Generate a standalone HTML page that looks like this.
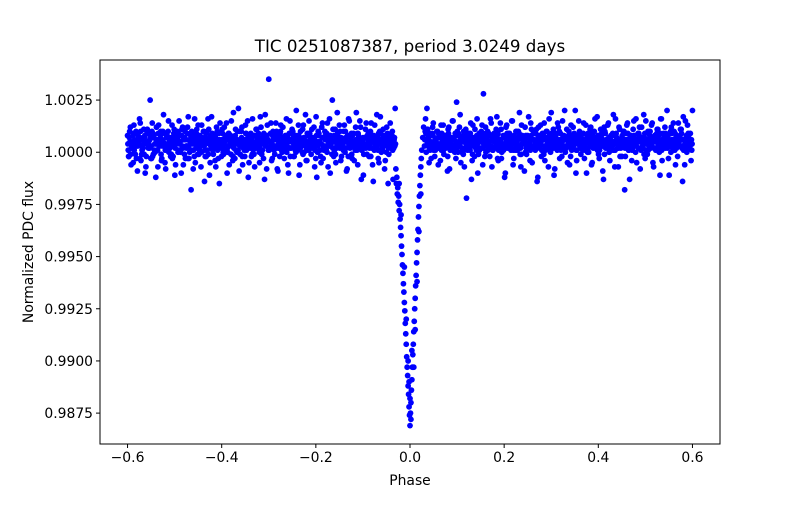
<!DOCTYPE html>
<html><head><meta charset="utf-8"><style>
html,body{margin:0;padding:0;background:#fff;}
svg text{font-family:"DejaVu Sans","Liberation Sans",sans-serif;fill:#000;}
</style></head><body>
<svg id="chart" width="800" height="500" viewBox="0 0 800 500" xmlns="http://www.w3.org/2000/svg">
<rect x="0" y="0" width="800" height="500" fill="#fff"/>
<g id="marks"></g>
<rect x="100" y="60" width="620" height="384" fill="none" stroke="#000" stroke-width="1"/>
<g id="xticks"></g>
<g id="yticks"></g>
<text x="410" y="52" font-size="16.7" text-anchor="middle">TIC 0251087387, period 3.0249 days</text>
<text x="410" y="485" font-size="13.9" text-anchor="middle">Phase</text>
<text x="0" y="0" font-size="13.9" text-anchor="middle" transform="translate(33,252) rotate(-90)">Normalized PDC flux</text>
</svg>
<script>
const xTicks=[-0.6,-0.4,-0.2,0.0,0.2,0.4,0.6];
const xTickLabels=["\u22120.6","\u22120.4","\u22120.2","0.0","0.2","0.4","0.6"];
const yTicks=[0.9875,0.9900,0.9925,0.9950,0.9975,1.0000,1.0025];
const yTickLabels=["0.9875","0.9900","0.9925","0.9950","0.9975","1.0000","1.0025"];
const phaseLeft=[-0.600,-0.597,-0.594,-0.591,-0.588,-0.585,-0.582,-0.579,-0.576,-0.573,
-0.570,-0.567,-0.564,-0.561,-0.558,-0.555,-0.552,-0.549,-0.546,-0.543,
-0.540,-0.537,-0.534,-0.531,-0.528,-0.525,-0.522,-0.519,-0.516,-0.513,
-0.510,-0.507,-0.504,-0.501,-0.498,-0.495,-0.492,-0.489,-0.486,-0.483,
-0.480,-0.477,-0.474,-0.471,-0.468,-0.465,-0.462,-0.459,-0.456,-0.453,
-0.450,-0.447,-0.444,-0.441,-0.438,-0.435,-0.432,-0.429,-0.426,-0.423,
-0.420,-0.417,-0.414,-0.411,-0.408,-0.405,-0.402,-0.399,-0.396,-0.393,
-0.390,-0.387,-0.384,-0.381,-0.378,-0.375,-0.372,-0.369,-0.366,-0.363,
-0.360,-0.357,-0.354,-0.351,-0.348,-0.345,-0.342,-0.339,-0.336,-0.333,
-0.330,-0.327,-0.324,-0.321,-0.318,-0.315,-0.312,-0.309,-0.306,-0.303,
-0.300,-0.297,-0.294,-0.291,-0.288,-0.285,-0.282,-0.279,-0.276,-0.273,
-0.270,-0.267,-0.264,-0.261,-0.258,-0.255,-0.252,-0.249,-0.246,-0.243,
-0.240,-0.237,-0.234,-0.231,-0.228,-0.225,-0.222,-0.219,-0.216,-0.213,
-0.210,-0.207,-0.204,-0.201,-0.198,-0.195,-0.192,-0.189,-0.186,-0.183,
-0.180,-0.177,-0.174,-0.171,-0.168,-0.165,-0.162,-0.159,-0.156,-0.153,
-0.150,-0.147,-0.144,-0.141,-0.138,-0.135,-0.132,-0.129,-0.126,-0.123,
-0.120,-0.117,-0.114,-0.111,-0.108,-0.105,-0.102,-0.099,-0.096,-0.093,
-0.090,-0.087,-0.084,-0.081,-0.078,-0.075,-0.072,-0.069,-0.066,-0.063,
-0.060,-0.057,-0.054,-0.051,-0.048,-0.045,-0.042,-0.039,-0.036,-0.033];
const phaseRight=[0.033,0.036,0.039,0.042,0.045,0.048,0.051,0.054,0.057,0.060,
0.063,0.066,0.069,0.072,0.075,0.078,0.081,0.084,0.087,0.090,
0.093,0.096,0.099,0.102,0.105,0.108,0.111,0.114,0.117,0.120,
0.123,0.126,0.129,0.132,0.135,0.138,0.141,0.144,0.147,0.150,
0.153,0.156,0.159,0.162,0.165,0.168,0.171,0.174,0.177,0.180,
0.183,0.186,0.189,0.192,0.195,0.198,0.201,0.204,0.207,0.210,
0.213,0.216,0.219,0.222,0.225,0.228,0.231,0.234,0.237,0.240,
0.243,0.246,0.249,0.252,0.255,0.258,0.261,0.264,0.267,0.270,
0.273,0.276,0.279,0.282,0.285,0.288,0.291,0.294,0.297,0.300,
0.303,0.306,0.309,0.312,0.315,0.318,0.321,0.324,0.327,0.330,
0.333,0.336,0.339,0.342,0.345,0.348,0.351,0.354,0.357,0.360,
0.363,0.366,0.369,0.372,0.375,0.378,0.381,0.384,0.387,0.390,
0.393,0.396,0.399,0.402,0.405,0.408,0.411,0.414,0.417,0.420,
0.423,0.426,0.429,0.432,0.435,0.438,0.441,0.444,0.447,0.450,
0.453,0.456,0.459,0.462,0.465,0.468,0.471,0.474,0.477,0.480,
0.483,0.486,0.489,0.492,0.495,0.498,0.501,0.504,0.507,0.510,
0.513,0.516,0.519,0.522,0.525,0.528,0.531,0.534,0.537,0.540,
0.543,0.546,0.549,0.552,0.555,0.558,0.561,0.564,0.567,0.570,
0.573,0.576,0.579,0.582,0.585,0.588,0.591,0.594,0.597,0.600];
const fluxLeftA=[1.0008,0.9998,1.0012,1.0003,0.9995,1.0006,1.0010,0.9991,1.0004,1.0014,
0.9999,1.0002,1.0007,0.9993,1.0011,1.0005,1.0025,0.9997,1.0009,1.0001,
0.9988,1.0006,1.0013,1.0003,0.9996,1.0010,1.0004,0.9992,1.0008,1.0015,
1.0002,0.9999,1.0007,1.0011,0.9994,1.0005,1.0009,1.0001,0.9990,1.0012,
1.0006,0.9997,1.0003,1.0017,1.0000,0.9982,1.0008,1.0004,0.9995,1.0011,
1.0013,1.0001,0.9993,1.0007,1.0010,0.9998,1.0005,1.0016,0.9989,1.0003,
1.0009,1.0002,0.9996,1.0012,1.0006,0.9985,1.0004,1.0011,0.9999,1.0007,
1.0014,1.0000,0.9994,1.0008,1.0003,1.0019,0.9997,1.0006,1.0010,0.9991,
1.0005,1.0012,1.0002,0.9998,1.0009,1.0015,0.9995,1.0004,1.0007,1.0001,
0.9993,1.0011,1.0006,1.0003,1.0017,0.9999,1.0008,0.9987,1.0005,1.0013,
1.0035,1.0002,0.9996,1.0010,1.0006,1.0014,0.9992,1.0004,1.0009,1.0001,
1.0012,0.9997,1.0007,1.0003,0.9990,1.0015,1.0005,1.0010,0.9998,1.0008,
1.0002,1.0013,0.9994,1.0006,1.0011,1.0000,1.0018,0.9996,1.0004,1.0009,
0.9999,1.0007,1.0012,1.0003,0.9988,1.0010,1.0005,0.9995,1.0014,1.0001,
1.0006,1.0009,0.9993,1.0016,1.0004,1.0025,0.9998,1.0011,1.0002,1.0007,
1.0013,0.9996,1.0005,1.0010,1.0000,0.9991,1.0008,1.0015,1.0003,0.9997,
1.0009,1.0004,1.0019,0.9994,1.0006,1.0012,1.0001,0.9989,1.0007,1.0014,
1.0003,0.9998,1.0010,1.0005,0.9986,1.0013,1.0002,1.0008,0.9995,1.0017,
1.0006,1.0011,0.9992,1.0004,1.0009,0.9999,1.0014,1.0003,0.9987,1.0007];
const fluxLeftB=[1.0001,1.0010,0.9994,1.0005,1.0013,0.9999,1.0003,1.0008,1.0016,0.9996,
1.0006,1.0011,0.9990,1.0004,1.0009,1.0002,0.9997,1.0014,1.0007,1.0000,
1.0012,0.9993,1.0006,1.0010,1.0003,1.0018,0.9995,1.0008,1.0001,1.0005,
0.9998,1.0013,1.0004,0.9989,1.0009,1.0006,1.0015,1.0000,1.0011,0.9994,
1.0007,1.0003,1.0012,0.9997,1.0005,1.0010,0.9992,1.0016,1.0002,1.0008,
0.9999,1.0006,1.0013,1.0004,0.9986,1.0009,1.0001,1.0011,0.9995,1.0017,
1.0003,1.0008,0.9993,1.0010,1.0005,1.0014,0.9998,1.0002,1.0012,1.0006,
0.9990,1.0009,1.0004,1.0015,0.9996,1.0007,1.0011,1.0000,1.0021,1.0003,
1.0010,0.9994,1.0006,1.0013,1.0002,0.9988,1.0008,1.0005,1.0016,0.9999,
1.0004,1.0011,1.0007,0.9995,1.0012,1.0001,1.0009,1.0018,0.9992,1.0006,
1.0002,1.0014,0.9997,1.0008,1.0003,1.0010,0.9991,1.0005,1.0013,1.0000,
1.0007,1.0004,1.0016,0.9994,1.0009,1.0002,1.0011,0.9998,1.0006,1.0020,
1.0001,0.9989,1.0010,1.0005,1.0013,1.0003,0.9996,1.0008,1.0015,1.0002,
1.0011,1.0006,0.9993,1.0017,1.0000,1.0009,1.0004,1.0012,0.9997,1.0007,
1.0003,1.0014,1.0008,0.9990,1.0005,1.0011,1.0001,0.9995,1.0019,1.0006,
1.0010,0.9998,1.0004,1.0013,1.0007,0.9992,1.0016,1.0002,1.0009,1.0005,
0.9996,1.0012,1.0001,1.0008,1.0015,0.9987,1.0006,1.0003,1.0011,0.9999,
1.0009,1.0004,1.0014,0.9994,1.0007,1.0002,1.0018,0.9997,1.0010,1.0005,
1.0001,1.0008,0.9996,1.0012,0.9985,1.0006,1.0003,1.0010,1.0002,1.0021];
const fluxLeftC=[1.0004,1.0007,0.9999,1.0002,1.0009,1.0005,0.9997,1.0003,1.0006,1.0010,
1.0001,1.0004,1.0008,0.9998,1.0005,1.0002,1.0007,1.0010,0.9999,1.0004,
1.0006,1.0001,1.0003,1.0008,0.9997,1.0005,1.0009,1.0002,1.0004,1.0000,
1.0007,1.0003,0.9998,1.0006,1.0004,1.0010,1.0001,1.0005,1.0008,1.0002,
0.9999,1.0006,1.0009,1.0003,1.0005,1.0001,1.0007,0.9998,1.0004,1.0006,
1.0002,1.0008,1.0000,1.0005,1.0003,1.0007,1.0010,0.9999,1.0004,1.0006,
1.0001,1.0005,1.0008,1.0003,0.9997,1.0006,1.0002,1.0009,1.0004,1.0000,
1.0006,1.0003,1.0007,0.9999,1.0005,1.0002,1.0008,1.0004,1.0001,1.0010,
1.0003,0.9998,1.0006,1.0004,1.0001,1.0007,1.0005,1.0009,0.9999,1.0003,
1.0008,1.0002,1.0005,1.0000,1.0006,1.0004,0.9997,1.0007,1.0003,1.0005,
1.0001,1.0009,1.0004,1.0006,0.9999,1.0002,1.0007,1.0005,1.0010,1.0003,
1.0006,1.0001,1.0004,1.0008,1.0002,0.9998,1.0005,1.0007,1.0003,1.0000,
1.0005,1.0008,1.0002,1.0004,0.9999,1.0006,1.0003,1.0009,1.0001,1.0007,
1.0004,1.0002,1.0006,0.9997,1.0005,1.0008,1.0001,1.0004,1.0007,1.0003,
1.0009,1.0000,1.0005,1.0003,1.0006,1.0002,1.0008,0.9999,1.0004,1.0006,
1.0002,1.0007,1.0004,1.0001,1.0010,1.0005,0.9998,1.0003,1.0006,1.0008,
1.0004,1.0001,1.0005,1.0009,1.0002,1.0006,1.0003,0.9999,1.0007,1.0004,
1.0006,1.0002,0.9998,1.0005,1.0008,1.0003,1.0006,1.0001,1.0004,1.0009,
1.0002,1.0005,1.0007,1.0000,1.0004,1.0006,1.0002,1.0008,1.0005,1.0003];
const fluxLeftD=[0.9998,1.0005,1.0002,1.0008,1.0001,1.0004,1.0009,1.0006,0.9997,1.0003,
1.0007,0.9999,1.0005,1.0010,1.0002,1.0006,1.0003,0.9998,1.0008,1.0004,
1.0001,1.0009,1.0005,0.9999,1.0006,1.0003,1.0001,1.0007,1.0010,1.0004,
1.0005,0.9997,1.0009,1.0002,1.0007,1.0000,1.0004,1.0008,1.0003,1.0006,
1.0010,1.0002,0.9997,1.0006,1.0008,1.0004,1.0001,1.0005,1.0009,0.9999,
1.0005,1.0003,1.0007,1.0010,1.0001,0.9998,1.0006,1.0004,1.0008,1.0002,
0.9999,1.0007,1.0004,1.0001,1.0009,1.0003,1.0006,1.0000,1.0005,1.0008,
1.0002,1.0009,1.0005,1.0003,0.9998,1.0007,1.0001,1.0006,1.0004,0.9999,
1.0007,1.0005,1.0001,1.0009,1.0003,1.0006,1.0002,0.9998,1.0005,1.0008,
1.0004,1.0006,1.0009,1.0002,1.0000,1.0007,1.0005,1.0003,1.0008,1.0001,
1.0005,1.0003,1.0008,1.0001,1.0006,1.0009,1.0002,0.9998,1.0004,1.0007,
1.0003,1.0008,1.0000,1.0005,1.0006,1.0002,1.0009,1.0004,1.0001,1.0006,
1.0008,1.0003,1.0006,1.0000,1.0007,1.0004,1.0001,1.0005,1.0009,1.0002,
1.0006,1.0004,1.0001,1.0008,1.0003,1.0005,0.9998,1.0007,1.0002,1.0010,
1.0001,1.0006,1.0003,1.0008,0.9999,1.0005,1.0002,1.0006,1.0009,1.0004,
1.0007,1.0003,1.0001,1.0005,1.0002,1.0008,1.0004,1.0007,0.9999,1.0005,
1.0002,1.0006,1.0009,1.0003,1.0005,1.0001,1.0007,1.0004,1.0002,1.0008,
1.0004,1.0008,1.0002,1.0006,1.0001,1.0005,1.0003,1.0009,1.0006,1.0000,
1.0007,1.0003,1.0005,1.0008,1.0002,1.0004,1.0009,1.0001,1.0006,1.0004];
const fluxRightA=[1.0016,1.0021,1.0003,1.0009,0.9997,1.0012,1.0005,1.0001,1.0010,0.9994,
1.0007,1.0013,1.0002,0.9999,1.0008,1.0004,1.0011,0.9992,1.0006,1.0015,
1.0003,1.0009,1.0024,1.0000,1.0012,0.9995,1.0006,1.0010,1.0002,0.9978,
1.0008,1.0004,1.0014,0.9996,1.0007,1.0011,1.0001,0.9990,1.0009,1.0005,
1.0013,1.0028,0.9998,1.0006,1.0010,1.0003,1.0016,0.9993,1.0007,1.0002,
1.0011,0.9997,1.0005,1.0014,1.0000,1.0008,0.9988,1.0012,1.0004,1.0009,
1.0002,1.0015,0.9994,1.0006,1.0010,1.0001,1.0007,0.9999,1.0013,1.0005,
0.9991,1.0008,1.0003,1.0017,0.9996,1.0011,1.0006,1.0002,1.0009,0.9986,
1.0012,1.0004,0.9998,1.0007,1.0014,1.0001,1.0010,0.9993,1.0005,1.0019,
1.0003,0.9989,1.0009,1.0006,1.0012,0.9997,1.0002,1.0015,1.0008,1.0000,
1.0011,1.0005,0.9994,1.0013,1.0003,1.0008,1.0020,0.9996,1.0006,1.0010,
0.9999,1.0004,1.0014,1.0001,0.9990,1.0009,1.0007,1.0012,0.9995,1.0005,
1.0016,1.0002,1.0008,0.9997,1.0011,1.0003,0.9987,1.0010,1.0006,1.0013,
1.0000,1.0007,1.0004,1.0018,0.9993,1.0009,1.0002,1.0012,1.0005,0.9998,
1.0010,0.9982,1.0006,1.0014,1.0001,1.0008,0.9996,1.0011,1.0003,1.0016,
1.0005,1.0009,0.9992,1.0012,1.0002,1.0007,1.0015,0.9999,1.0004,1.0010,
1.0013,0.9995,1.0006,1.0001,1.0011,1.0008,0.9989,1.0016,1.0003,1.0007,
1.0009,1.0020,0.9997,1.0005,1.0012,1.0002,1.0010,0.9994,1.0008,1.0014,
1.0003,1.0011,0.9986,1.0006,1.0015,1.0000,1.0009,1.0004,0.9996,1.0020];
const fluxRightB=[1.0006,1.0000,1.0011,0.9995,1.0008,1.0003,1.0014,0.9998,1.0005,1.0010,
1.0002,0.9996,1.0009,1.0013,1.0004,1.0007,0.9991,1.0012,1.0001,1.0006,
1.0015,1.0003,0.9997,1.0010,1.0005,1.0018,1.0000,1.0008,0.9993,1.0011,
1.0004,1.0009,1.0001,0.9987,1.0013,1.0006,1.0002,1.0016,0.9999,1.0007,
1.0010,0.9994,1.0005,1.0012,1.0003,1.0008,0.9998,1.0014,1.0001,1.0009,
1.0006,1.0017,0.9996,1.0004,1.0011,1.0002,1.0007,0.9990,1.0013,1.0005,
1.0009,1.0001,1.0015,0.9997,1.0006,1.0010,1.0003,1.0019,0.9993,1.0008,
1.0004,1.0012,0.9999,1.0007,1.0002,1.0014,0.9995,1.0009,1.0005,1.0011,
0.9988,1.0006,1.0013,1.0001,1.0008,0.9996,1.0010,1.0003,1.0016,1.0000,
1.0007,1.0011,0.9992,1.0005,1.0014,1.0002,1.0009,0.9998,1.0006,1.0020,
1.0003,0.9995,1.0010,1.0007,1.0001,1.0012,1.0005,0.9990,1.0008,1.0015,
1.0002,1.0009,1.0004,0.9997,1.0013,1.0006,1.0000,1.0011,0.9994,1.0007,
1.0010,1.0003,1.0017,0.9999,1.0005,1.0008,0.9991,1.0012,1.0002,1.0006,
1.0014,0.9996,1.0004,1.0009,1.0001,1.0016,1.0007,0.9993,1.0011,1.0003,
1.0006,1.0010,0.9998,1.0013,1.0004,0.9987,1.0008,1.0002,1.0015,1.0005,
0.9995,1.0009,1.0012,1.0001,1.0007,1.0018,0.9997,1.0004,1.0010,1.0006,
1.0002,1.0014,0.9993,1.0008,1.0005,1.0011,1.0000,1.0016,0.9996,1.0009,
1.0012,1.0003,1.0007,0.9989,1.0010,1.0006,1.0014,1.0001,1.0008,0.9998,
1.0005,1.0011,1.0002,1.0017,0.9994,1.0007,1.0013,1.0003,1.0009,1.0001];
const fluxRightC=[1.0010,1.0006,1.0008,1.0002,1.0005,1.0009,1.0001,1.0006,1.0004,1.0007,
1.0003,1.0008,1.0005,1.0001,1.0006,1.0003,0.9998,1.0007,1.0004,1.0002,
1.0006,1.0000,1.0005,1.0008,1.0003,1.0006,1.0002,0.9999,1.0007,1.0004,
1.0001,1.0006,1.0009,1.0003,1.0005,0.9998,1.0007,1.0004,1.0002,1.0008,
1.0005,1.0002,1.0007,1.0000,1.0004,1.0009,1.0003,1.0006,1.0001,1.0005,
1.0003,1.0008,1.0001,1.0006,0.9997,1.0004,1.0007,1.0002,1.0009,1.0005,
1.0006,1.0002,1.0004,1.0008,1.0001,1.0005,1.0010,1.0003,0.9999,1.0006,
1.0004,1.0000,1.0007,1.0002,1.0005,1.0008,1.0003,1.0006,1.0001,1.0004,
1.0007,1.0003,1.0005,1.0009,0.9999,1.0006,1.0002,1.0004,1.0008,1.0001,
1.0005,1.0007,1.0002,1.0004,1.0006,1.0010,1.0001,1.0005,1.0003,1.0007,
1.0002,1.0006,1.0004,0.9998,1.0008,1.0003,1.0005,1.0001,1.0007,1.0004,
1.0006,1.0003,1.0009,1.0002,1.0005,1.0000,1.0006,1.0004,1.0008,1.0002,
1.0004,1.0007,1.0001,1.0005,1.0003,1.0009,1.0006,0.9999,1.0004,1.0002,
1.0007,1.0003,1.0005,1.0001,1.0008,1.0004,1.0006,1.0002,0.9998,1.0005,
1.0003,1.0006,1.0009,1.0004,1.0001,1.0007,1.0003,1.0005,1.0008,1.0000,
1.0006,1.0002,1.0005,1.0007,1.0003,0.9999,1.0006,1.0004,1.0001,1.0008,
1.0004,1.0007,1.0002,1.0005,1.0009,1.0003,1.0006,1.0001,1.0004,1.0007,
1.0002,1.0005,1.0008,1.0003,1.0000,1.0006,1.0004,1.0009,1.0002,1.0005,
1.0007,1.0003,1.0006,1.0001,1.0004,1.0008,1.0005,1.0002,1.0006,1.0004];
const fluxRightD=[1.0003,1.0009,1.0005,1.0007,1.0001,1.0004,1.0008,1.0003,1.0006,1.0002,
1.0009,1.0004,1.0001,1.0006,1.0008,1.0002,1.0005,1.0009,1.0003,1.0007,
1.0001,1.0007,1.0004,1.0002,1.0009,1.0003,1.0007,1.0005,1.0001,1.0006,
1.0008,1.0002,1.0005,1.0007,0.9999,1.0006,1.0003,1.0008,1.0005,1.0001,
1.0002,1.0007,1.0004,1.0009,1.0006,1.0001,1.0005,1.0003,1.0008,1.0002,
1.0007,1.0004,1.0009,1.0002,1.0006,1.0003,1.0001,1.0007,1.0005,1.0002,
1.0008,1.0004,1.0007,1.0001,1.0005,1.0003,1.0006,1.0009,1.0002,1.0004,
1.0007,1.0005,1.0002,1.0008,1.0004,1.0001,1.0006,1.0003,1.0009,1.0005,
1.0002,1.0008,1.0004,1.0001,1.0006,1.0003,1.0007,1.0005,1.0002,1.0007,
1.0009,1.0002,1.0005,1.0008,1.0001,1.0004,1.0006,1.0003,1.0007,1.0002,
1.0006,1.0003,1.0008,1.0005,1.0002,1.0006,1.0009,1.0004,1.0001,1.0007,
1.0003,1.0007,1.0001,1.0006,1.0004,1.0008,1.0002,1.0005,1.0003,1.0009,
1.0007,1.0002,1.0005,1.0008,1.0001,1.0006,1.0003,1.0004,1.0009,1.0005,
1.0002,1.0006,1.0008,1.0003,1.0005,1.0001,1.0007,1.0004,1.0006,1.0002,
1.0008,1.0004,1.0002,1.0006,1.0009,1.0003,1.0005,1.0001,1.0007,1.0004,
1.0003,1.0006,1.0008,1.0002,1.0005,1.0004,1.0009,1.0001,1.0006,1.0003,
1.0007,1.0003,1.0005,1.0008,1.0002,1.0006,1.0004,1.0009,1.0001,1.0005,
1.0005,1.0008,1.0002,1.0006,1.0004,1.0009,1.0001,1.0005,1.0007,1.0003,
1.0004,1.0007,1.0009,1.0003,1.0006,1.0002,1.0005,1.0008,1.0003,1.0006];
const transitPhase=[-0.030,-0.029,-0.028,-0.027,-0.026,-0.025,-0.024,-0.023,-0.022,-0.021,-0.020,-0.019,-0.018,-0.017,-0.016,-0.015,-0.014,-0.013,-0.012,-0.011,-0.010,-0.009,-0.008,-0.007,-0.006,-0.005,-0.004,-0.003,-0.002,-0.001,0.000,0.001,0.002,0.003,0.004,0.005,0.006,0.007,0.008,0.009,0.010,0.011,0.012,0.013,0.014,0.015,0.016,0.017,0.018,0.019,0.020,0.021,0.022,0.023,0.024,0.025,0.027,0.029,
-0.012,-0.008,-0.004,-0.002,0.000,0.002,0.004,0.008,0.011,0.015,0.019,-0.019,-0.023,0.023];
const transitFlux=[0.9992,0.9985,0.9988,0.9980,0.9983,0.9976,0.9979,0.9972,0.9975,0.9968,0.9964,0.9960,0.9955,0.9951,0.9946,0.9942,0.9937,0.9933,0.9928,0.9924,0.9918,0.9913,0.9908,0.9902,0.9897,0.9893,0.9888,0.9884,0.9878,0.9874,0.9869,0.9875,0.9880,0.9886,0.9891,0.9897,0.9903,0.9908,0.9914,0.9919,0.9925,0.9930,0.9936,0.9941,0.9947,0.9952,0.9958,0.9963,0.9969,0.9974,0.9979,0.9984,0.9989,0.9993,0.9997,1.0001,1.0007,1.0012,
0.9945,0.9920,0.9900,0.9890,0.9882,0.9872,0.9905,0.9897,0.9915,0.9938,0.9962,0.9970,0.9985,0.9980];

const NS="http://www.w3.org/2000/svg";
const X0=100,X1=720,Y0=60,Y1=444;
const xMin=-0.6585,xMax=0.6585,yMin=0.98602,yMax=1.00442;
function xs(v){return X0+(v-xMin)/(xMax-xMin)*(X1-X0);}
function ys(v){return Y1-(v-yMin)/(yMax-yMin)*(Y1-Y0);}
const marks=document.getElementById('marks');
function dot(p,f){
  const c=document.createElementNS(NS,'circle');
  c.setAttribute('cx',xs(p).toFixed(2));
  c.setAttribute('cy',ys(f).toFixed(2));
  c.setAttribute('r','2.9');
  c.setAttribute('fill','#0000ff');
  
  
  marks.appendChild(c);
}
phaseLeft.forEach((p,i)=>{dot(p,fluxLeftA[i]);dot(p+0.0015,fluxLeftB[i]);dot(p+0.0008,fluxLeftC[i]);dot(p+0.0022,fluxLeftD[i]);});
phaseRight.forEach((p,i)=>{dot(p,fluxRightA[i]);dot(p-0.0015,fluxRightB[i]);dot(p-0.0008,fluxRightC[i]);dot(p-0.0022,fluxRightD[i]);});
transitPhase.forEach((p,i)=>dot(p,transitFlux[i]));

const xg=document.getElementById('xticks');
xTicks.forEach((v,i)=>{
  const x=xs(v);
  const l=document.createElementNS(NS,'line');
  l.setAttribute('x1',x);l.setAttribute('x2',x);l.setAttribute('y1',Y1);l.setAttribute('y2',Y1+4);
  l.setAttribute('stroke','#000');
  
  
  xg.appendChild(l);
  const t=document.createElementNS(NS,'text');
  t.setAttribute('x',x);t.setAttribute('y',Y1+18);t.setAttribute('font-size','13.9');t.setAttribute('text-anchor','middle');
  t.textContent=xTickLabels[i];
  
  
  xg.appendChild(t);
});
const yg=document.getElementById('yticks');
yTicks.forEach((v,i)=>{
  const y=ys(v);
  const l=document.createElementNS(NS,'line');
  l.setAttribute('x1',X0-4);l.setAttribute('x2',X0);l.setAttribute('y1',y);l.setAttribute('y2',y);
  l.setAttribute('stroke','#000');
  
  
  yg.appendChild(l);
  const t=document.createElementNS(NS,'text');
  t.setAttribute('x',X0-7);t.setAttribute('y',y+5);t.setAttribute('font-size','13.9');t.setAttribute('text-anchor','end');
  t.textContent=yTickLabels[i];
  
  
  yg.appendChild(t);
});
</script>
</body></html>
